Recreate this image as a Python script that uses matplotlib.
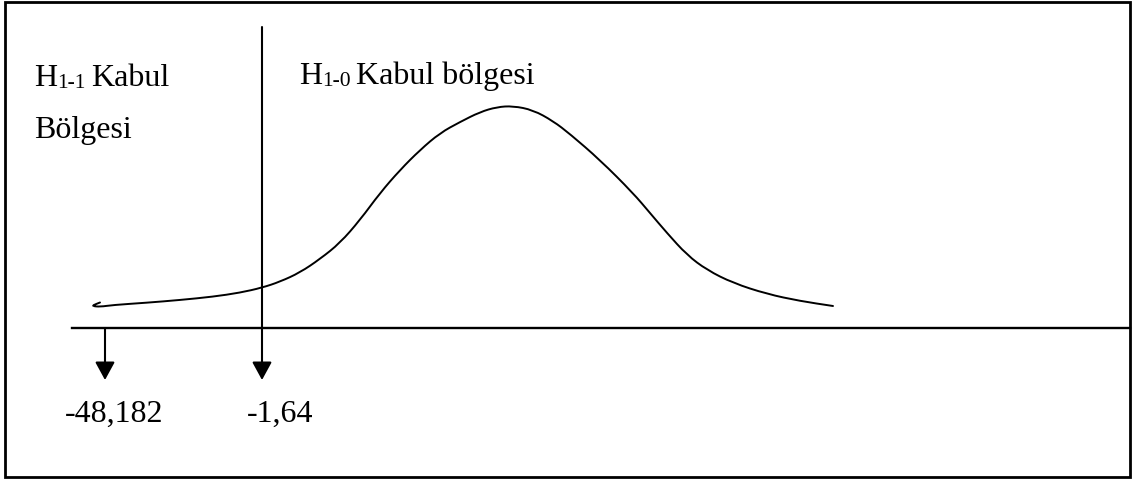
import matplotlib.pyplot as plt
from matplotlib.patches import Rectangle, PathPatch
from matplotlib.path import Path

plt.rcParams['font.family'] = ['Liberation Serif', 'DejaVu Serif']

# curve (pixel-like units, y grows downward)
curve_x = [100, 96, 92, 100, 113, 147, 180, 213, 240, 262, 280, 300, 320, 340,
           360, 380, 400, 420, 440, 460, 480, 497, 513, 533, 553, 570, 600,
           633, 650, 667, 687, 707, 733, 767, 800, 833]
curve_y = [302.5, 304, 306, 306.8, 305, 302.7, 300, 296.7, 292.7, 287.7, 281.7,
           272.5, 259, 243, 220, 193, 170, 150, 133, 122, 112, 107, 106, 110,
           121, 134, 160, 193, 213, 233, 255, 270, 283, 294, 301, 306]

axis_y = 328
crit_x = [105, 262]
crit_labels = ['-48,182', '-1,64']
label_x = [65, 247]

fig = plt.figure(figsize=(11.34, 4.79), dpi=100)
ax = fig.add_axes([0, 0, 1, 1])
ax.set_xlim(0, 1134)
ax.set_ylim(479, 0)
ax.axis('off')

# frame
ax.add_patch(Rectangle((5, 1.5), 1125, 475, fill=False, lw=2, ec='black'))

# horizontal axis
ax.plot([72, 1130], [axis_y, axis_y], color='black', lw=1.7)

# curve, smoothed with quadratic segments through the traced points
pts = list(zip(curve_x, curve_y))
verts = [pts[0]]
codes = [Path.MOVETO]
for i in range(1, len(pts) - 1):
    mid = ((pts[i][0] + pts[i + 1][0]) / 2, (pts[i][1] + pts[i + 1][1]) / 2)
    verts += [pts[i], mid]
    codes += [Path.CURVE3, Path.CURVE3]
verts.append(pts[-1])
codes.append(Path.LINETO)
ax.add_patch(PathPatch(Path(verts, codes), fill=False, ec='black', lw=1.4,
                       capstyle='round'))

# arrows
arr = dict(arrowstyle='-|>,head_length=0.55,head_width=0.3', color='black',
           lw=1.5, shrinkA=0, shrinkB=0, mutation_scale=20)
ax.annotate('', xy=(crit_x[0], 380), xytext=(crit_x[0], axis_y), arrowprops=arr)
ax.annotate('', xy=(crit_x[1], 380), xytext=(crit_x[1], 27), arrowprops=arr)

fs = 23
sub_fs = 15.5


def sub_label(x, y, main, sub, rest):
    t1 = ax.text(x, y, main, fontsize=fs, va='baseline', ha='left')
    t2 = ax.annotate(sub, xy=(1, 0), xycoords=t1, fontsize=sub_fs,
                     va='bottom', ha='left')
    ax.annotate(rest, xy=(1, 0), xycoords=t2, xytext=(4, 0),
                textcoords='offset points', fontsize=fs, va='bottom', ha='left')


sub_label(34, 86, 'H', '1-1', 'Kabul')
ax.text(34, 138, 'Bölgesi', fontsize=fs, va='baseline', ha='left')
sub_label(299, 84, 'H', '1-0', 'Kabul bölgesi')

for lx, lab in zip(label_x, crit_labels):
    ax.text(lx, 422, lab, fontsize=fs, va='baseline', ha='left')

fig.savefig('out.png', dpi=100)
